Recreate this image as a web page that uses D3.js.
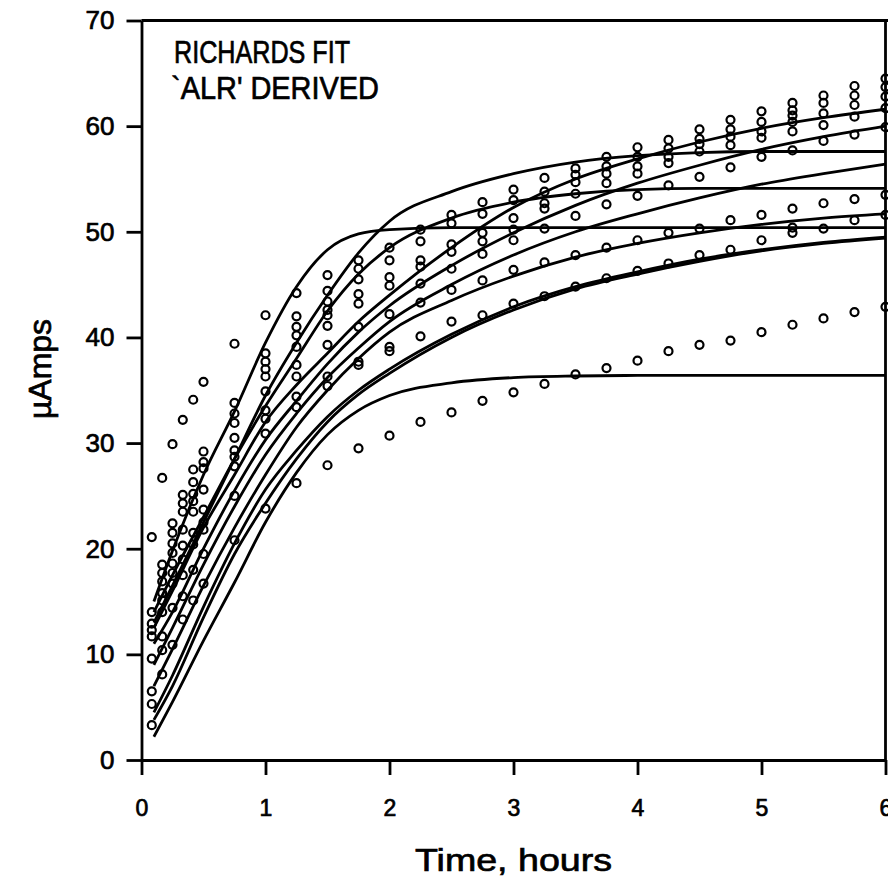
<!DOCTYPE html>
<html>
<head>
<meta charset="utf-8">
<script src="https://cdn.jsdelivr.net/npm/d3@7"></script>
<style>
body { margin: 0; background: #fff; }
text { font-family: "Liberation Sans", Arial, Helvetica, sans-serif; fill: #000; stroke: #000; stroke-width: 0.7; }
.axis path, .axis line { stroke: #000; stroke-width: 2.8; }
.frame { stroke: #000; stroke-width: 2.8; }
.fit { fill: none; stroke: #000; stroke-width: 2.8; }
.obs { fill: none; stroke: #000; stroke-width: 2.2; }
</style>
</head>
<body>
<svg id="chart"></svg>
<script>
var w = 888;
var h = 880;

// sampling times (hours) of the measured points
var times = [0.083, 0.167, 0.25, 0.333, 0.417, 0.5, 0.75, 1, 1.25, 1.5, 1.75, 2, 2.25, 2.5, 2.75,
  3, 3.25, 3.5, 3.75, 4, 4.25, 4.5, 4.75, 5, 5.25, 5.5, 5.75, 6];

// measured current, uA (null = no point)
var run1 = [21.1, 26.7, 29.9, 32.2, 34.1, 35.8, 39.4, 42.1, 44.2, 45.9, 47.3, 48.5, 50.2, 51.6, 52.8,
  54.0, 55.1, 56.0, 57.1, 58.0, 58.7, 59.7, 60.6, 61.4, 62.2, 62.9, 63.8, 64.5];
var run2 = [14.0, 18.5, 22.4, 25.1, 27.5, 29.2, 33.8, 38.5, 42.0, 44.4, 46.5, 47.3, 49.1, 50.8, 51.7,
  53.0, 53.8, 55.4, 56.2, 57.1, 57.9, 58.8, 59.7, 60.4, 61.5, 62.2, 62.9, 63.7];
var run3 = [12.9, 17.7, 21.5, 24.3, 26.3, 28.2, 32.8, 37.7, 41.0, 43.4, 45.5, 45.7, 47.3, 48.8, 49.9,
  51.3, 52.7, 54.7, 55.5, 56.2, 57.1, 58.3, 59.0, 59.5, 60.4, 61.2, 62.0, 62.8];
var run4 = [12.3, 16.9, 20.5, 23.5, 25.2, 27.6, 31.9, 37.0, 40.2, 42.6, 44.1, 44.9, 46.7, 48.1, 49.1,
  50.2, 52.2, 53.6, 54.6, 55.5, 56.5, 57.6, 58.2, 58.9, 59.5, 60.1, 60.9, 61.7];
var run5 = [11.7, 15.8, 19.6, 21.8, 24.5, 25.6, 30.5, 36.3, 39.1, 42.1, 43.2, 42.2, 45.1, 46.5, 47.9,
  49.2, 50.3, 51.5, 52.6, 53.4, 54.4, 55.2, 56.1, 57.1, 57.7, 58.6, 59.2, 59.9];
var run6 = [9.6, 15.1, 18.6, 20.3, 23.5, 23.7, 29.3, 34.9, 37.4, 41.1, 41.0, 39.1, 43.3, 44.5, 45.4,
  46.4, 47.1, 47.8, 48.5, 49.2, 49.9, 50.3, 51.1, 51.6, 52.2, 52.7, 53.1, 53.5];
var run7 = [6.5, 14.0, 17.7, 19.0, 21.5, 22.5, 28.7, 33.1, 36.3, 39.3, 37.7, 38.7, 40.1, 41.5, 42.1,
  43.2, 43.9, 44.8, 45.6, 46.3, 47.0, 47.8, 48.3, 49.2, 49.9, 50.3, 51.1, 51.6];
var run8 = [5.3, 11.7, 16.7, 17.5, 20.4, 21.8, 27.8, 32.3, 34.4, 36.3, 37.4, null, null, null, null,
  null, null, null, null, null, null, null, null, null, 61.0, null, null, null];
var run9 = [3.3, 10.4, 14.4, 15.5, 18.0, 19.5, 25.0, 30.9, 33.4, 35.4, null, null, null, null, null,
  null, null, null, null, null, null, null, null, null, 50.4, null, null, null];
var run10 = [null, 8.1, 10.9, 13.3, 15.1, 16.7, 20.8, 23.8, 26.2, 27.9, 29.5, 30.7, 32.0, 32.9, 34.0,
  34.8, 35.6, 36.5, 37.1, 37.8, 38.7, 39.3, 39.7, 40.5, 41.2, 41.8, 42.4, 42.9];

// Richards fit curves
var fitTimes = [0.1, 0.25, 0.5, 0.75, 1, 1.25, 1.5, 1.75, 2, 2.5, 3, 3.5, 4, 4.5, 5, 5.5, 6];
var fit1 = [15, 19.8, 27, 33, 39.5, 44.8, 48.3, 49.8, 50.2, 50.4, 50.4, 50.4, 50.4, 50.4, 50.4, 50.4, 50.4];
var fit2 = [13, 16.5, 22.5, 28.5, 34.5, 39.5, 44, 48, 51, 53.8, 55.5, 56.6, 57.2, 57.5, 57.6, 57.6, 57.6];
var fit3 = [12.5, 16, 22, 27, 32, 35.5, 38.5, 41.5, 44, 48.5, 52.3, 55, 56.9, 58.5, 59.8, 60.8, 61.6];
var fit4 = [14, 17.5, 23, 28.5, 33.5, 38, 42.5, 46, 48.5, 51.3, 52.8, 53.6, 54, 54.1, 54.1, 54.1, 54.1];
var fit5 = [11, 14, 20, 25.5, 30.3, 34, 37.5, 40.5, 43, 46.8, 49.9, 52.5, 54.6, 56.3, 57.8, 59, 60];
var fit6 = [9, 12.5, 18.5, 24, 28.9, 32.8, 36.2, 39, 41.5, 45, 47.8, 50, 51.7, 53.2, 54.5, 55.5, 56.4];
var fit7 = [7, 10.5, 16.5, 22, 27, 31.5, 35, 38, 40.5, 43.5, 45.8, 47.6, 48.9, 49.9, 50.7, 51.3, 51.7];
var fit8 = [4.5, 8, 14.5, 20.5, 25.6, 29.3, 32.5, 35, 37, 40.3, 42.9, 44.8, 46.2, 47.4, 48.3, 49, 49.5];
var fit9 = [3.8, 7, 13.5, 19.5, 24.3, 28.5, 32, 34.6, 36.6, 40, 42.6, 44.6, 46, 47.2, 48.2, 48.9, 49.4];
var fit10 = [2.2, 5.5, 11.3, 16.8, 22.5, 27.2, 30.8, 33.1, 34.5, 35.7, 36.2, 36.35, 36.4, 36.4, 36.4, 36.4, 36.4];

var xTicks = [0, 1, 2, 3, 4, 5, 6];
var yTicks = [0, 10, 20, 30, 40, 50, 60, 70];
var noteLines = ["RICHARDS FIT", "`ALR' DERIVED"];
var xTitle = "Time, hours";
var yTitle = "\u00b5Amps";

var runs = [run1, run2, run3, run4, run5, run6, run7, run8, run9, run10];
var fits = [fit1, fit2, fit3, fit4, fit5, fit6, fit7, fit8, fit9, fit10];

var svg = d3.select("#chart")
  .attr("width", w)
  .attr("height", h)

var x = d3.scaleLinear().domain([0, 6]).range([141.5, 885.5]);
var y = d3.scaleLinear().domain([0, 70]).range([760, 20.5]);

// frame (top and right sides)
svg.append("line").attr("class", "frame")
  .attr("x1", x(0)).attr("x2", w).attr("y1", y(70)).attr("y2", y(70))
svg.append("line").attr("class", "frame")
  .attr("x1", x(6)).attr("x2", x(6)).attr("y1", y(70)).attr("y2", y(0))

var yAxis = svg.append("g")
  .attr("class", "axis")
  .attr("transform", "translate(" + x(0) + ",0)")
  .call(d3.axisLeft(y).tickValues(yTicks).tickFormat(d3.format("d"))
    .tickSize(15).tickSizeOuter(0).tickPadding(12))
yAxis.selectAll("text").style("font-size", "26px")

var xAxis = svg.append("g")
  .attr("class", "axis")
  .attr("transform", "translate(0," + y(0) + ")")
  .call(d3.axisBottom(x).tickValues(xTicks).tickFormat(d3.format("d"))
    .tickSize(15).tickSizeOuter(0).tickPadding(25))
xAxis.selectAll("text").style("font-size", "23px")

svg.selectAll(".axis text").attr("font-family", null).attr("font-size", null)

var line = d3.line()
  .x(function(d) { return x(d.t); })
  .y(function(d) { return y(d.v); })
  .curve(d3.curveMonotoneX)

svg.selectAll(".fit")
  .data(fits)
  .enter()
  .append("path")
  .attr("class", "fit")
  .attr("d", function(f) {
    return line(fitTimes.map(function(t, i) { return {t: t, v: f[i]}; }));
  })

var points = [];
runs.forEach(function(r) {
  r.forEach(function(v, i) {
    if (v != null) points.push({t: times[i], v: v});
  });
});

svg.selectAll(".obs")
  .data(points)
  .enter()
  .append("circle")
  .attr("class", "obs")
  .attr("cx", function(d) { return x(d.t); })
  .attr("cy", function(d) { return y(d.v); })
  .attr("r", 4)

svg.selectAll(".note")
  .data(noteLines)
  .enter()
  .append("text")
  .attr("class", "note")
  .attr("x", function(d, i) { return i == 0 ? 174 : 171; })
  .attr("y", function(d, i) { return 62.5 + i * 36.5; })
  .attr("textLength", function(d, i) { return i == 0 ? 176 : 208; })
  .attr("lengthAdjust", "spacingAndGlyphs")
  .style("font-size", "32px")
  .text(function(d) { return d; })

svg.append("text")
  .attr("x", x(3))
  .attr("y", 871)
  .attr("text-anchor", "middle")
  .attr("textLength", 197)
  .attr("lengthAdjust", "spacingAndGlyphs")
  .style("font-size", "32px")
  .text(xTitle)

svg.append("text")
  .attr("transform", "translate(51,369) rotate(-90)")
  .attr("text-anchor", "middle")
  .style("font-size", "32px")
  .text(yTitle)
</script>
</body>
</html>
